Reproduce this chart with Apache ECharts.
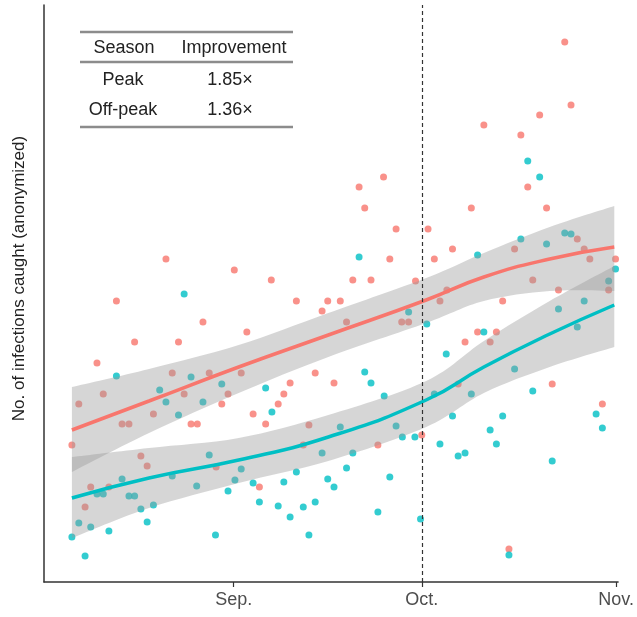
<!DOCTYPE html>
<html>
<head>
<meta charset="utf-8">
<script src="https://cdn.jsdelivr.net/npm/echarts@6/dist/echarts.min.js"></script>
<style>
html,body{margin:0;padding:0;background:#fff;}
#chart{width:637px;height:617px;}
</style>
</head>
<body>
<div id="chart"></div>
<script>
// x = days since Aug 1, y = infections caught (anonymized units)
const tickDays = [31, 61, 92];
const tickLabels = ['Sep.', 'Oct.', 'Nov.'];
const cutoffDay = 61;
const yTitle = 'No. of infections caught (anonymized)';

const tableHeader = ['Season', 'Improvement'];
const tableRows = [['Peak', '1.85×'], ['Off-peak', '1.36×']];

const peakPoints = [
  [20.2,32.3],[31.1,31.2],[12.3,28.1],[26.1,26.0],[15.2,24.0],[22.2,24.0],[9.2,21.9],[21.2,20.9],[27.1,20.9],
  [10.2,18.8],[23.1,18.8],[30.1,18.8],[6.3,17.8],[29.1,17.8],[18.2,16.8],[13.2,15.8],[14.3,15.8],[24.2,15.8],
  [25.2,15.8],[5.2,13.7],[16.2,12.6],[17.2,11.6],[8.2,9.5],[11.1,9.5],[28.2,11.5],[7.3,7.5],
  [54.9,40.5],[51.0,39.5],[51.9,37.4],[56.9,35.3],[62.0,35.3],[55.9,32.3],[37.0,30.2],[50.0,30.2],[52.9,30.2],
  [60.0,30.1],[41.0,28.1],[46.0,28.1],[48.0,28.1],[45.1,27.1],[33.1,25.0],[49.0,26.0],[57.8,26.0],[58.9,26.0],
  [32.2,20.9],[44.0,20.9],[40.0,19.9],[47.0,19.9],[39.0,18.8],[38.1,17.8],[34.1,16.8],[36.1,15.8],[43.0,15.7],
  [61.0,14.7],[54.0,13.7],[42.1,13.7],[35.1,9.5],
  [83.8,54.0],[84.8,47.7],[79.8,46.7],[70.9,45.7],[76.8,44.7],[77.9,39.5],[68.9,37.4],[80.9,37.4],[63.0,32.3],
  [65.9,33.3],[75.8,33.3],[85.8,34.3],[86.9,33.3],[87.8,32.3],[91.9,32.3],[65.0,29.2],[63.9,28.1],[78.7,30.2],
  [82.8,29.2],[73.9,28.1],[90.8,29.2],[69.9,25.0],[72.9,25.0],[67.9,24.0],[71.9,24.0],[66.8,19.8],[81.8,19.8],
  [89.8,17.8],[74.9,3.3]
];
const offPeakPoints = [
  [23.1,28.8],[12.3,20.6],[19.2,19.2],[24.2,20.5],[29.1,19.8],[20.2,18.0],[26.1,18.0],[22.2,16.7],[27.1,12.7],
  [13.2,10.3],[9.2,8.8],[10.2,8.8],[14.3,8.6],[15.2,8.6],[25.1,9.6],[31.2,10.2],[30.1,9.1],[21.2,10.6],
  [16.2,7.3],[18.2,7.7],[17.2,6.0],[6.3,5.9],[8.2,5.5],[11.1,5.1],[5.2,4.5],[28.1,4.7],[7.3,2.6],
  [51.0,32.5],[58.9,27.0],[61.8,25.8],[51.9,21.0],[52.9,19.9],[36.1,19.4],[37.1,17.0],[55.0,18.6],[48.0,15.5],
  [56.9,15.6],[57.9,14.5],[59.9,14.5],[32.2,11.3],[45.1,12.9],[50.0,12.9],[41.0,11.0],[49.0,11.4],[34.1,9.9],
  [39.0,10.0],[46.0,10.3],[47.0,9.5],[55.9,10.5],[35.1,8.0],[38.1,7.6],[42.1,7.5],[44.0,8.0],[40.0,6.5],
  [54.0,7.0],[43.0,4.7],[60.8,6.3],
  [77.9,42.1],[79.8,40.5],[76.8,34.3],[83.8,34.9],[84.8,34.8],[80.9,33.8],[69.9,32.7],[91.9,31.3],[90.8,30.1],
  [70.9,25.0],[82.8,27.3],[86.9,28.1],[85.8,25.5],[64.9,22.8],[75.8,21.3],[63.0,18.8],[68.9,18.8],[78.7,19.1],
  [65.9,16.6],[73.9,16.6],[71.9,15.2],[88.8,16.8],[89.8,15.4],[63.9,13.8],[72.9,13.8],[66.8,12.6],
  [67.9,12.9],[81.8,12.1],[74.9,2.7]
];

// smoothed trend (loess) and its confidence band, read at these days
const fitDays   = [5.2, 17.5, 31.8, 46.1, 61.7, 70.9, 81.4, 91.7];
const peakFit   = [15.2, 18.1, 21.5, 24.7, 28.2, 30.5, 32.3, 33.5];
const peakLower = [11.0, 14.9, 18.9, 22.5, 25.9, 28.1, 29.1, 29.1];
const peakUpper = [19.5, 21.3, 23.7, 26.9, 30.4, 32.9, 35.5, 37.6];
const offFit    = [8.4, 10.4, 12.2, 14.5, 18.2, 21.5, 24.8, 27.7];
const offLower  = [4.4, 7.4, 9.9, 12.1, 15.5, 18.9, 21.5, 23.5];
const offUpper  = [12.5, 13.4, 14.4, 16.7, 20.1, 24.1, 28.1, 31.6];

const RED = '#F8766D', TEAL = '#00BFC4';
const FONT = '"Liberation Sans", Arial, Helvetica, sans-serif';

function pairs(xs, ys) { return xs.map((x, i) => [x, ys[i]]); }

// Catmull-Rom curve through pixel points (drawing only)
function curvePath(pts, moveFirst) {
  let d = (moveFirst ? 'M' : 'L') + pts[0][0] + ' ' + pts[0][1];
  for (let i = 0; i < pts.length - 1; i++) {
    const p0 = pts[Math.max(i - 1, 0)], p1 = pts[i], p2 = pts[i + 1], p3 = pts[Math.min(i + 2, pts.length - 1)];
    const c1x = p1[0] + (p2[0] - p0[0]) / 6, c1y = p1[1] + (p2[1] - p0[1]) / 6;
    const c2x = p2[0] - (p3[0] - p1[0]) / 6, c2y = p2[1] - (p3[1] - p1[1]) / 6;
    d += 'C' + c1x + ' ' + c1y + ' ' + c2x + ' ' + c2y + ' ' + p2[0] + ' ' + p2[1];
  }
  return d;
}

function bandSeries(name, lo, hi) {
  return {
    name: name, type: 'custom', data: [[fitDays[0], lo[0]]], silent: true, z: 3,
    renderItem: function (params, api) {
      const up = fitDays.map((d, i) => api.coord([d, hi[i]]));
      const dn = fitDays.map((d, i) => api.coord([d, lo[i]])).reverse();
      const pathData = curvePath(up, true) + curvePath(dn, false) + 'Z';
      return { type: 'path', shape: { pathData: pathData }, style: { fill: 'rgba(153,153,153,0.4)', stroke: null } };
    }
  };
}

const graphics = [];
const ruleStyle = { stroke: '#8c8c8c', lineWidth: 2.5 };
[32, 62, 127].forEach(y => graphics.push({ type: 'line', shape: { x1: 80, y1: y, x2: 293, y2: y }, style: ruleStyle }));
const colX = [124, 234];
const rowY = [80, 110];
tableHeader.forEach((t, i) => graphics.push({ type: 'text', x: colX[i], y: 48,
  style: { text: t, fontSize: 18, fontFamily: FONT, fill: '#222', align: 'center', verticalAlign: 'middle' } }));
tableRows.forEach((row, r) => row.forEach((t, i) => graphics.push({ type: 'text', x: i === 0 ? colX[0] - 1 : colX[1] - 4, y: rowY[r],
  style: { text: t, fontSize: 18, fontFamily: FONT, fill: '#222', align: 'center', verticalAlign: 'middle' } })));

const chart = echarts.init(document.getElementById('chart'), null, { renderer: 'canvas' });
chart.setOption({
  animation: false,
  backgroundColor: '#fff',
  grid: { left: 44, right: 15, top: 5, bottom: 35, containLabel: false },
  xAxis: {
    type: 'value', min: 0.75, max: 92.3,
    splitLine: { show: false },
    axisLine: { lineStyle: { color: '#333', width: 1.5 } },
    axisTick: { customValues: tickDays, length: 5, lineStyle: { color: '#333', width: 1.2 } },
    axisLabel: { customValues: tickDays, formatter: v => tickLabels[tickDays.indexOf(v)] || '',
      fontSize: 18, fontFamily: FONT, color: '#4d4d4d', margin: 9 }
  },
  yAxis: {
    type: 'value', min: 0, max: 57.7,
    splitLine: { show: false },
    axisLine: { show: true, lineStyle: { color: '#333', width: 1.5 } },
    axisTick: { show: false }, axisLabel: { show: false },
    name: yTitle, nameLocation: 'middle', nameRotate: 90, nameGap: 16,
    nameTextStyle: { fontSize: 17, fontFamily: FONT, color: '#222', padding: [0, 0, 0, 30] }
  },
  graphic: graphics,
  series: [
    { name: 'Peak', type: 'scatter', data: peakPoints, symbolSize: 7, itemStyle: { color: RED }, z: 2,
      markLine: { silent: true, symbol: 'none', label: { show: false },
        lineStyle: { type: [4, 3], color: '#333', width: 1.2 }, data: [{ xAxis: cutoffDay }] } },
    { name: 'Off-peak', type: 'scatter', data: offPeakPoints, symbolSize: 7, itemStyle: { color: TEAL }, z: 2 },
    bandSeries('Peak band', peakLower, peakUpper),
    bandSeries('Off-peak band', offLower, offUpper),
    { name: 'Peak trend', type: 'line', data: pairs(fitDays, peakFit), smooth: true, symbol: 'none',
      lineStyle: { color: RED, width: 3.5 }, z: 4 },
    { name: 'Off-peak trend', type: 'line', data: pairs(fitDays, offFit), smooth: true, symbol: 'none',
      lineStyle: { color: TEAL, width: 3.5 }, z: 4 }
  ]
});
</script>
</body>
</html>
